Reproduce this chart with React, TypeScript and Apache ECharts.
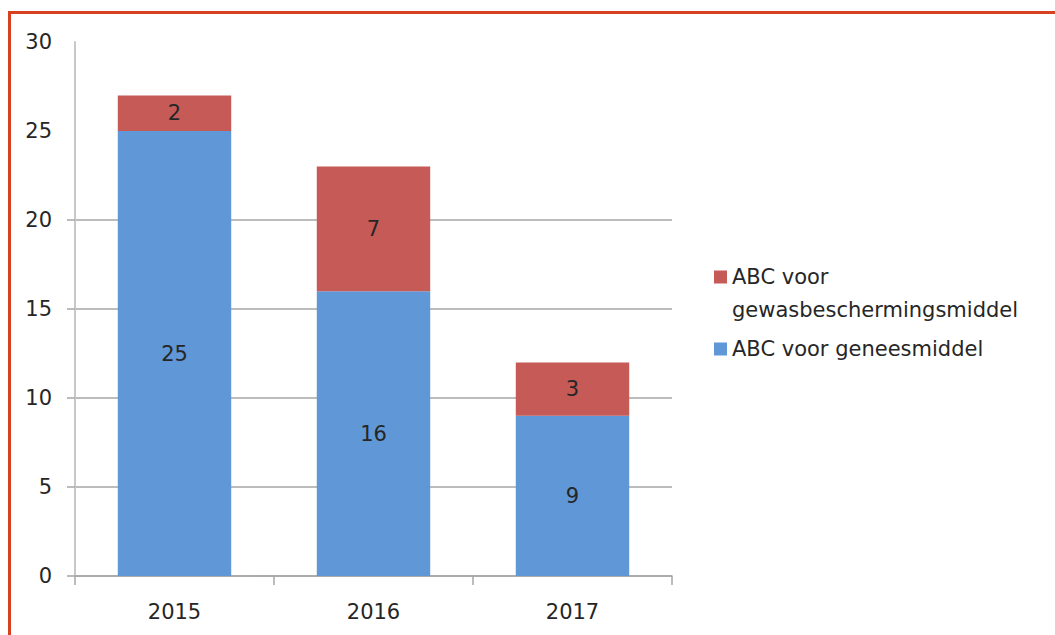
import React, { useEffect, useRef } from "react";
import * as echarts from "echarts";

const categories = ["2015", "2016", "2017"];
const geneesmiddel = [25, 16, 9];
const gewas = [2, 7, 3];
const yTickValues = [0, 5, 10, 15, 20];
const yLabelValues = [0, 5, 10, 15, 20, 25, 30];
const nameGenees = "ABC voor geneesmiddel";
const nameGewas = "ABC voor\ngewasbeschermingsmiddel";

const FONT = "DejaVu Sans";
const TXT = "#262626";
const FS = 21;

export default function App() {
  const ref = useRef<HTMLDivElement>(null);
  useEffect(() => {
    if (!ref.current) return;
    const chart = echarts.init(ref.current, undefined, { renderer: "svg" });
    chart.setOption({
      animation: false,
      backgroundColor: "#ffffff",
      textStyle: { fontFamily: FONT },
      graphic: [
        {
          type: "rect",
          z: -10,
          silent: true,
          shape: { x: 9.5, y: 12.5, width: 1200, height: 800 },
          style: { fill: "none", stroke: "#d8411f", lineWidth: 3 },
        },
      ],
      grid: { left: 75, right: 383, top: 42, bottom: 59, containLabel: false },
      legend: {
        orient: "vertical",
        left: 714,
        top: 227.5,
        padding: 0,
        itemGap: 6,
        itemWidth: 13,
        itemHeight: 13,
        icon: "rect",
        selectedMode: false,
        textStyle: { fontFamily: FONT, fontSize: FS, color: TXT, lineHeight: 33 },
        formatter: (name: string) => (name === nameGewas ? " \n" + name : name),
        data: [nameGewas, nameGenees],
      },
      xAxis: {
        type: "category",
        data: categories,
        boundaryGap: true,
        axisLine: { show: true, lineStyle: { color: "#a6a6a6", width: 1.5 } },
        axisTick: { show: true, length: 9, lineStyle: { color: "#a6a6a6", width: 1.5 } },
        axisLabel: { fontFamily: FONT, fontSize: FS, color: TXT, margin: 25 },
        splitLine: { show: false },
      },
      yAxis: {
        type: "value",
        min: 0,
        max: 30,
        interval: 5,
        axisLine: { show: true, lineStyle: { color: "#c8c8c8", width: 2 } },
        axisTick: {
          show: true,
          length: 8,
          customValues: yTickValues,
          lineStyle: { color: "#a6a6a6", width: 1.5 },
        },
        axisLabel: {
          fontFamily: FONT,
          fontSize: FS,
          color: TXT,
          margin: 23,
          customValues: yLabelValues,
        },
        splitLine: { show: true, lineStyle: { color: "#a6a6a6", width: 1.5 } },
      },
      series: [
        {
          name: nameGenees,
          type: "bar",
          stack: "total",
          barWidth: "57%",
          data: geneesmiddel,
          itemStyle: { color: "#6097d6" },
          label: { show: true, position: "inside", fontFamily: FONT, fontSize: FS, color: TXT },
        },
        {
          name: nameGewas,
          type: "bar",
          stack: "total",
          barWidth: "57%",
          data: gewas,
          itemStyle: { color: "#c55a57" },
          label: { show: true, position: "inside", fontFamily: FONT, fontSize: FS, color: TXT },
        },
      ],
    });
    return () => chart.dispose();
  }, []);
  return (
    <div
      ref={ref}
      style={{ position: "fixed", left: 0, top: 0, width: 1055, height: 635 }}
    />
  );
}
